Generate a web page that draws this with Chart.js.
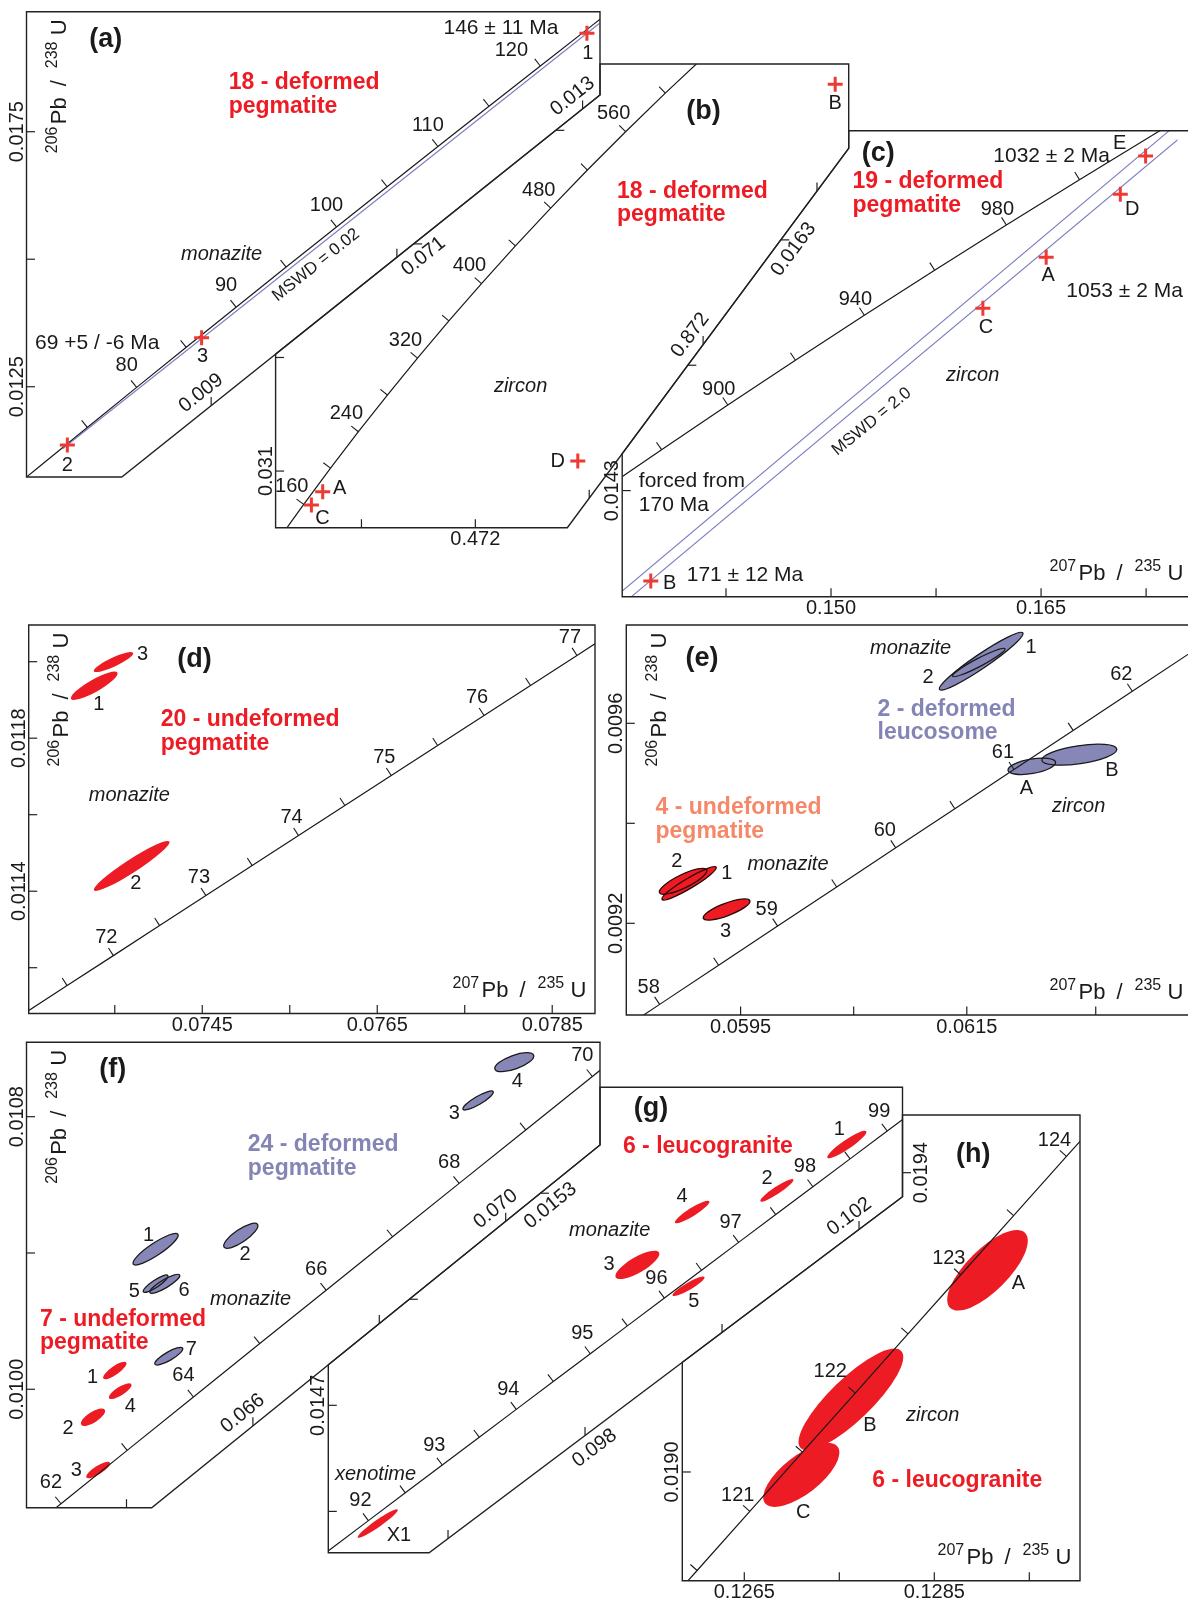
<!DOCTYPE html>
<html>
<head>
<meta charset="utf-8">
<title>U-Pb concordia diagrams</title>
<script src="https://cdn.jsdelivr.net/npm/chart.js@4.4.1/dist/chart.umd.min.js"></script>
<style>
  html, body { margin: 0; padding: 0; background: #fff; }
  #page { position: relative; width: 1188px; height: 1598px; overflow: hidden; background: #fff; }
  #page canvas { position: absolute; left: 0; top: 0; }
</style>
</head>
<body>
<div id="page"></div>
<script>
const W = 1188, H = 1598;
const FONT = '"Liberation Sans", Arial, Helvetica, sans-serif';
const INK = '#1a1a1a', RED = '#ed1c24', PURPLE = '#8585b5', SALMON = '#f6886a';
const BLUE_FILL = '#8687b6', DISC = '#7c7cc2', CROSS = '#ef3a34';

// ---------- (a) 18 - deformed pegmatite, monazite ----------
const aConcAges = [65, 70, 75, 80, 85, 90, 95, 100, 105, 110, 115, 120, 125, 130];
const aConcX = [0.066108, 0.071371, 0.076660, 0.081975, 0.087316, 0.092683, 0.098077, 0.103498, 0.108945, 0.114419, 0.119920, 0.125449, 0.131004, 0.136588];
const aConcY = [0.010134, 0.010918, 0.011702, 0.012487, 0.013273, 0.014059, 0.014846, 0.015633, 0.016421, 0.017210, 0.017999, 0.018789, 0.019580, 0.020371];
const aTickAges = [75, 80, 85, 90, 95, 100, 105, 110, 115, 120];
const aLabelAges = [80, 90, 100, 110, 120];
const aSpotNames = ['2', '3', '1'];
const aSpotX = [0.07451, 0.08897, 0.13047];
const aSpotY = [0.011357, 0.013460, 0.019429];
const aDiscX = [0.0740, 0.1318];
const aDiscY = [0.011283, 0.019621];
const aXTicks = [0.09, 0.11, 0.13];
const aXTickLabels = ['0.009', '', '0.013'];
const aYTicks = [0.0125, 0.015, 0.0175];
const aYTickLabels = ['0.0125', '', '0.0175'];

// ---------- (b) 18 - deformed pegmatite, zircon ----------
const bConcAges = [120, 140, 160, 200, 240, 280, 320, 360, 400, 440, 480, 520, 560, 600, 640];
const bConcX = [0.125449, 0.147837, 0.170673, 0.217708, 0.266637, 0.317529, 0.370468, 0.425533, 0.482811, 0.542392, 0.604365, 0.668829, 0.735882, 0.805631, 0.878181];
const bConcY = [0.018789, 0.021955, 0.025131, 0.031511, 0.037932, 0.044392, 0.050893, 0.057434, 0.064016, 0.070638, 0.077302, 0.084008, 0.090755, 0.097544, 0.104376];
const bTickAges = [160, 200, 240, 280, 320, 360, 400, 440, 480, 520, 560, 600];
const bLabelAges = [160, 240, 320, 400, 480, 560];
const bSpotNames = ['B', 'D', 'A', 'C'];
const bSpotX = [1.10398, 0.65194, 0.20394, 0.18410];
const bSpotY = [0.099102, 0.032773, 0.027367, 0.025025];
const bXTicks = [0.272, 0.472, 0.672, 0.872, 1.072];
const bXTickLabels = ['', '0.472', '', '0.872', ''];
const bYTicks = [0.031, 0.051, 0.071, 0.091];
const bYTickLabels = ['0.031', '', '0.071', ''];

// ---------- (c) 19 - deformed pegmatite, zircon ----------
const cConcAges = [840, 860, 880, 900, 920, 940, 960, 980, 1000, 1020, 1040];
const cConcX = [1.287074, 1.332572, 1.378972, 1.426294, 1.474558, 1.523783, 1.573986, 1.625190, 1.677409, 1.730669, 1.784989];
const cConcY = [0.139176, 0.142716, 0.146266, 0.149828, 0.153401, 0.156985, 0.160580, 0.164186, 0.167804, 0.171433, 0.175073];
const cTickAges = [880, 900, 920, 940, 960, 980, 1000];
const cLabelAges = [900, 940, 980];
const cSpotNames = ['E', 'D', 'A', 'C', 'B'];
const cSpotX = [1.72464, 1.70656, 1.653645, 1.608440, 1.371279];
const cSpotY = [0.169691, 0.166636, 0.161610, 0.157542, 0.135788];
const cDiscUpperX = [1.33, 1.76];
const cDiscUpperY = [0.133028, 0.173452];
const cDiscLowerX = [1.33, 1.76];
const cDiscLowerY = [0.131975, 0.172143];
const cXTicks = [1.425, 1.5, 1.575, 1.65, 1.725];
const cXTickLabels = ['', '0.150', '', '0.165', ''];
const cYTicks = [0.143, 0.153, 0.163];
const cYTickLabels = ['0.0143', '', '0.0163'];

// ---------- (d) 20 - undeformed pegmatite, monazite ----------
const dConcAges = [71, 71.5, 72, 72.5, 73, 73.5, 74, 74.5, 75, 75.5, 76, 76.5, 77, 77.5];
const dConcX = [0.0724271, 0.0729553, 0.0734837, 0.0740125, 0.0745415, 0.0750707, 0.0756003, 0.0761301, 0.0766601, 0.0771904, 0.0777210, 0.0782518, 0.0787829, 0.0793142];
const dConcY = [0.01107475, 0.01115318, 0.0112316, 0.01131004, 0.01138849, 0.01146693, 0.01154539, 0.01162385, 0.01170232, 0.01178079, 0.01185927, 0.01193775, 0.01201625, 0.01209475];
const dTickAges = [71.5, 72, 72.5, 73, 73.5, 74, 74.5, 75, 75.5, 76, 76.5, 77];
const dLabelAges = [72, 73, 74, 75, 76, 77];
const dEllNames = ['1', '2', '3'];
const dEllX = [0.073265, 0.073693, 0.073485];
const dEllY = [0.011937, 0.011466, 0.011999];
const dEllSX = [0.0002675, 0.000433, 0.000225];
const dEllSY = [0.0000371, 0.0000654, 0.0000261];
const dEllRho = [0.87, 0.95, 0.87];
const dXTicks = [0.0735, 0.0745, 0.0755, 0.0765, 0.0775, 0.0785];
const dXTickLabels = ['', '0.0745', '', '0.0765', '', '0.0785'];
const dYTicks = [0.0112, 0.0114, 0.0116, 0.0118, 0.0120];
const dYTickLabels = ['', '0.0114', '', '0.0118', ''];

// ---------- (e) 2 - deformed leucosome / 4 - undeformed pegmatite ----------
const eConcAges = [57.5, 58, 58.5, 59, 59.5, 60, 60.5, 61, 61.5, 62, 62.5, 63];
const eConcX = [0.0582630, 0.0587842, 0.0593057, 0.0598275, 0.0603495, 0.0608718, 0.0613943, 0.0619171, 0.0624401, 0.0629634, 0.0634870, 0.0640108];
const eConcY = [0.00895959, 0.00903785, 0.00911611, 0.00919438, 0.00927267, 0.00935095, 0.00942924, 0.00950754, 0.00958584, 0.00966415, 0.00974246, 0.00982079];
const eTickAges = [58, 58.5, 59, 59.5, 60, 60.5, 61, 61.5, 62];
const eLabelAges = [58, 59, 60, 61, 62];
const eBlueNames = ['1', '2', 'A', 'B'];
const eBlueX = [0.0616273, 0.0616061, 0.0620747, 0.0624947];
const eBlueY = [0.0097242, 0.0097216, 0.0095140, 0.0095372];
const eBlueSX = [0.0003696, 0.0002325, 0.0002104, 0.0003316];
const eBlueSY = [0.0000578, 0.0000284, 0.0000165, 0.0000210];
const eBlueRho = [0.956, 0.947, 0.45, 0.5];
const eRedNames = ['2', '1', '3'];
const eRedX = [0.0589916, 0.0590447, 0.0593762];
const eRedY = [0.0092840, 0.0092800, 0.0092276];
const eRedSX = [0.0002104, 0.0002405, 0.0002069];
const eRedSY = [0.0000260, 0.0000334, 0.0000210];
const eRedRho = [0.82, 0.936, 0.78];
const eXTicks = [0.0595, 0.0605, 0.0615, 0.06264];
const eXTickLabels = ['0.0595', '', '0.0615', ''];
const eYTicks = [0.0092, 0.0094, 0.0096];
const eYTickLabels = ['0.0092', '', '0.0096'];

// ---------- (f) 24 - deformed / 7 - undeformed pegmatite ----------
const fConcAges = [61, 62, 63, 64, 65, 66, 67, 68, 69, 70, 71];
const fConcX = [0.0619171, 0.0629634, 0.0640108, 0.0650592, 0.0661087, 0.0671591, 0.0682106, 0.0692632, 0.0703168, 0.0713714, 0.0724271];
const fConcY = [0.00950754, 0.00966415, 0.00982079, 0.00997744, 0.01013414, 0.01029084, 0.01044758, 0.01060434, 0.01076111, 0.01091792, 0.01107475];
const fTickAges = [62, 63, 64, 65, 66, 67, 68, 69, 70];
const fLabelAges = [62, 64, 66, 68, 70];
const fBlueNames = ['1', '2', '3', '4', '5', '6', '7'];
const fBlueX = [0.0644605, 0.0658086, 0.0695634, 0.0701362, 0.0644605, 0.0646060, 0.0646693];
const fBlueY = [0.0104111, 0.0104505, 0.0108475, 0.0109599, 0.0103099, 0.0103096, 0.0100971];
const fBlueSX = [0.0003576, 0.0002706, 0.0002405, 0.0003085, 0.0001962, 0.0002373, 0.0002215];
const fBlueSY = [0.0000464, 0.0000367, 0.0000279, 0.0000279, 0.0000255, 0.0000279, 0.0000258];
const fBlueRho = [0.886, 0.80, 0.87, 0.65, 0.87, 0.866, 0.84];
const fRedNames = ['1', '2', '3', '4'];
const fRedX = [0.0638149, 0.0634699, 0.0635522, 0.0639003];
const fRedY = [0.0100552, 0.0099181, 0.0097632, 0.0099944];
const fRedSX = [0.0001851, 0.0001915, 0.0001883, 0.0001788];
const fRedSY = [0.0000258, 0.0000258, 0.0000244, 0.0000229];
const fRedRho = [0.82, 0.71, 0.81, 0.78];
const fXTicks = [0.064, 0.066, 0.068, 0.070];
const fXTickLabels = ['', '0.066', '', '0.070'];
const fYTicks = [0.0100, 0.0104, 0.0108];
const fYTickLabels = ['0.0100', '', '0.0108'];

// ---------- (g) 6 - leucogranite, monazite + xenotime ----------
const gConcAges = [91, 91.5, 92, 92.5, 93, 93.5, 94, 94.5, 95, 95.5, 96, 96.5, 97, 97.5, 98, 98.5, 99, 99.5];
const gConcX = [0.0937601, 0.0942988, 0.0948378, 0.0953770, 0.0959166, 0.0964564, 0.0969964, 0.0975367, 0.0980773, 0.0986182, 0.0991593, 0.0997007, 0.1002423, 0.1007843, 0.1013264, 0.1018689, 0.1024116, 0.1029546];
const gConcY = [0.01421649, 0.01429515, 0.01437382, 0.0144525, 0.01453119, 0.01460989, 0.01468858, 0.01476729, 0.014846, 0.01492471, 0.01500344, 0.01508216, 0.01516091, 0.01523965, 0.01531839, 0.01539714, 0.01547591, 0.01555467];
const gTickAges = [92, 92.5, 93, 93.5, 94, 94.5, 95, 95.5, 96, 96.5, 97, 97.5, 98, 98.5, 99];
const gLabelAges = [92, 93, 94, 95, 96, 97, 98, 99];
const gEllNames = ['1', '2', '3', '4', '5', 'X1'];
const gEllX = [0.1018229, 0.1008010, 0.0987646, 0.0995646, 0.0995120, 0.0949750];
const gEllY = [0.0154378, 0.0153082, 0.0150972, 0.0152468, 0.0150367, 0.0143657];
const gEllSX = [0.0002861, 0.0002423, 0.0003212, 0.0002525, 0.0002336, 0.0002934];
const gEllSY = [0.0000390, 0.0000320, 0.0000402, 0.0000320, 0.0000274, 0.0000402];
const gEllRho = [0.917, 0.927, 0.78, 0.905, 0.905, 0.953];
const gXTicks = [0.096, 0.098, 0.100, 0.102];
const gXTickLabels = ['', '0.098', '', '0.102'];
const gYTicks = [0.0144, 0.0147, 0.0150, 0.0153];
const gYTickLabels = ['', '0.0147', '', '0.0153'];

// ---------- (h) 6 - leucogranite, zircon ----------
const hConcAges = [120, 120.5, 121, 121.5, 122, 122.5, 123, 123.5, 124, 124.5];
const hConcX = [0.1254489, 0.1260033, 0.1265579, 0.1271127, 0.1276679, 0.1282233, 0.1287790, 0.1293350, 0.1298913, 0.1304478];
const hConcY = [0.01878935, 0.01886836, 0.01894739, 0.01902643, 0.01910546, 0.0191845, 0.01926357, 0.01934262, 0.01942169, 0.01950076];
const hTickAges = [120.5, 121, 121.5, 122, 122.5, 123, 123.5, 124];
const hLabelAges = [121, 122, 123, 124];
const hEllNames = ['A', 'B', 'C'];
const hEllX = [0.1290599, 0.1276221, 0.1271];
const hEllY = [0.0192696, 0.0190969, 0.018996];
const hEllSX = [0.0004242, 0.0005516, 0.000401];
const hEllSY = [0.0000539, 0.000068, 0.0000428];
const hEllRho = [0.73, 0.835, 0.70];
const hXTicks = [0.1265, 0.1275, 0.1285, 0.1295];
const hXTickLabels = ['0.1265', '', '0.1285', ''];
const hYTicks = [0.0190, 0.0194];
const hYTickLabels = ['0.0190', '0.0194'];

// ---------- fonts ----------
const F_LET = 'bold 27px ' + FONT;
const F_TTL = 'bold 23px ' + FONT;
const F_IT = 'italic 20px ' + FONT;
const F_ANN = '21px ' + FONT;
const F_NUM = '20px ' + FONT;
const F_SM = '17px ' + FONT;

// ---------- layout of the eight panels ----------
const panels = [
  {
    id: 'a', box: [26.5, 11.7, 600, 477], xr: [0.07011, 0.131877], yr: [0.01073, 0.019853],
    frame: [[26.5, 11.7], [600, 11.7], [600, 95], [121.8, 477], [26.5, 477]],
    conc: { ages: aConcAges, x: aConcX, y: aConcY, ticks: aTickAges, labels: aLabelAges },
    ageOff: [-10, -21.5], ageOffAt: { 120: [-29, -15] },
    spots: { names: aSpotNames, x: aSpotX, y: aSpotY, off: [[0, 20], [1, 19], [1, 20]] },
    lines: [{ x: aDiscX, y: aDiscY, color: DISC }],
    xTicks: { v: aXTicks, labels: aXTickLabels }, yTicks: { v: aYTicks, labels: aYTickLabels },
    yTitle: true,
    texts: [
      ['(a)', 105.8, 39.3, F_LET, INK, 'center'],
      ['18 - deformed', 228.7, 83, F_TTL, RED],
      ['pegmatite', 228.7, 106.7, F_TTL, RED],
      ['146 \u00b1 11 Ma', 443.5, 28, F_ANN, INK],
      ['69 +5 / -6 Ma', 35, 343, F_ANN, INK],
      ['monazite', 181, 254, F_IT, INK],
      ['MSWD = 0.02', 316, 265, F_SM, INK, 'center', -38.6]
    ]
  },
  {
    id: 'b', box: [275.6, 64, 848.7, 527.7], xr: [0.12123, 1.12770], yr: [0.021028, 0.102676],
    frame: [[600, 64], [848.7, 64], [848.7, 148.3], [567.3, 527.7], [275.6, 527.7], [275.6, 354.1], [600, 95]],
    conc: { ages: bConcAges, x: bConcX, y: bConcY, ticks: bTickAges, labels: bLabelAges },
    ageOff: [-12, -18],
    spots: { names: bSpotNames, x: bSpotX, y: bSpotY, off: [[0, 19], [-20, 0], [17, -3], [11, 13]] },
    xTicks: { v: bXTicks, labels: bXTickLabels }, yTicks: { v: bYTicks, labels: bYTickLabels },
    texts: [
      ['(b)', 703.5, 111.7, F_LET, INK, 'center'],
      ['18 - deformed', 617, 191.7, F_TTL, RED],
      ['pegmatite', 617, 214.3, F_TTL, RED],
      ['zircon', 493.9, 386.7, F_IT, INK]
    ]
  },
  {
    id: 'c', box: [622.2, 130.7, 1188, 596.7], xr: [1.350885, 1.747414], yr: [0.134536, 0.171709],
    frame: [[848.7, 130.7], [1190, 130.7], [1190, 596.7], [622.2, 596.7], [622.2, 453.7], [848.7, 148.3]],
    conc: { ages: cConcAges, x: cConcX, y: cConcY, ticks: cTickAges, labels: cLabelAges },
    ageOff: [-9, -16],
    spots: { names: cSpotNames, x: cSpotX, y: cSpotY, off: [[-26, -13], [12, 15], [2, 18], [3, 19], [19, 2]] },
    lines: [{ x: cDiscUpperX, y: cDiscUpperY, color: DISC }, { x: cDiscLowerX, y: cDiscLowerY, color: DISC }],
    xTicks: { v: cXTicks, labels: cXTickLabels }, yTicks: { v: cYTicks, labels: cYTickLabels },
    xTitle: [1192, 596.7],
    texts: [
      ['(c)', 878.3, 153.3, F_LET, INK, 'center'],
      ['1032 \u00b1 2 Ma', 993.3, 156.7, F_ANN, INK],
      ['19 - deformed', 852.5, 181.7, F_TTL, RED],
      ['pegmatite', 852.5, 206, F_TTL, RED],
      ['1053 \u00b1 2 Ma', 1066.3, 291.7, F_ANN, INK],
      ['zircon', 946, 375, F_IT, INK],
      ['MSWD = 2.0', 871.7, 421.7, F_SM, INK, 'center', -39.5],
      ['forced from', 638.8, 481, F_ANN, INK],
      ['170 Ma', 638.8, 505, F_ANN, INK],
      ['171 \u00b1 12 Ma', 686.7, 575, F_ANN, INK]
    ]
  },
  {
    id: 'd', box: [28.7, 625, 595, 1013.5], xr: [0.072516, 0.078989], yr: [0.0110803, 0.0120959],
    frame: [[28.7, 625], [595, 625], [595, 1013.5], [28.7, 1013.5]],
    conc: { ages: dConcAges, x: dConcX, y: dConcY, ticks: dTickAges, labels: dLabelAges },
    ageOff: [-7, -18],
    ells: [{ names: dEllNames, x: dEllX, y: dEllY, sx: dEllSX, sy: dEllSY, rho: dEllRho, fill: RED,
             off: [[4.5, 18.4], [4.2, 17.3], [29.2, -7.7]] }],
    xTicks: { v: dXTicks, labels: dXTickLabels }, yTicks: { v: dYTicks, labels: dYTickLabels },
    yTitle: true, xTitle: [595, 1013.5],
    texts: [
      ['(d)', 194.4, 660, F_LET, INK, 'center'],
      ['20 - undeformed', 160.7, 720, F_TTL, RED],
      ['pegmatite', 160.7, 743.3, F_TTL, RED],
      ['monazite', 88.8, 795.7, F_IT, INK]
    ]
  },
  {
    id: 'e', box: [626.3, 625, 1188, 1015], xr: [0.0584894, 0.0634558], yr: [0.0090166, 0.0097966],
    frame: [[626.3, 625], [1190, 625], [1190, 1015], [626.3, 1015]],
    conc: { ages: eConcAges, x: eConcX, y: eConcY, ticks: eTickAges, labels: eLabelAges },
    ageOff: [-11, -17],
    ells: [
      { names: eBlueNames, x: eBlueX, y: eBlueY, sx: eBlueSX, sy: eBlueSY, rho: eBlueRho, fill: BLUE_FILL, stroke: INK,
        off: [[49.8, -13.9], [-50.8, 14.8], [-5.4, 22], [32.6, 15.3]] },
      { names: eRedNames, x: eRedX, y: eRedY, sx: eRedSX, sy: eRedSY, rho: eRedRho, fill: RED, stroke: '#2a0606',
        off: [[-6.2, -19.6], [37.7, -10], [-1, 21.5]] }
    ],
    xTicks: { v: eXTicks, labels: eXTickLabels }, yTicks: { v: eYTicks, labels: eYTickLabels },
    yTitle: true, xTitle: [1192, 1015],
    texts: [
      ['(e)', 702, 658.3, F_LET, INK, 'center'],
      ['monazite', 870, 648.3, F_IT, INK],
      ['2 - deformed', 877.5, 709.3, F_TTL, PURPLE],
      ['leucosome', 877.5, 732.3, F_TTL, PURPLE],
      ['zircon', 1051.9, 806.7, F_IT, INK],
      ['4 - undeformed', 655.5, 807.7, F_TTL, SALMON],
      ['pegmatite', 655.5, 831.7, F_TTL, SALMON],
      ['monazite', 747.4, 864.3, F_IT, INK]
    ]
  },
  {
    id: 'f', box: [26.5, 1042.3, 600, 1507.7], xr: [0.0624177, 0.0714922], yr: [0.0096525, 0.0110183],
    frame: [[26.5, 1042.3], [600, 1042.3], [600, 1145], [151.7, 1507.7], [26.5, 1507.7]],
    conc: { ages: fConcAges, x: fConcX, y: fConcY, ticks: fTickAges, labels: fLabelAges },
    ageOff: [-10, -21],
    ells: [
      { names: fBlueNames, x: fBlueX, y: fBlueY, sx: fBlueSX, sy: fBlueSY, rho: fBlueRho, fill: BLUE_FILL, stroke: INK,
        off: [[-7, -14.2], [4.2, 19.2], [-23.7, 12.8], [3.1, 18.8], [-21.4, 8], [19.2, 6.2], [22.6, -7.2]] },
      { names: fRedNames, x: fRedX, y: fRedY, sx: fRedSX, sy: fRedSY, rho: fRedRho, fill: RED,
        off: [[-22.2, 6.8], [-24.9, 11.1], [-22, 1], [10.1, 14.8]] }
    ],
    xTicks: { v: fXTicks, labels: fXTickLabels }, yTicks: { v: fYTicks, labels: fYTickLabels },
    yTitle: true,
    texts: [
      ['(f)', 112.8, 1070, F_LET, INK, 'center'],
      ['24 - deformed', 247.8, 1144.3, F_TTL, PURPLE],
      ['pegmatite', 247.8, 1168.3, F_TTL, PURPLE],
      ['7 - undeformed', 40, 1320, F_TTL, RED],
      ['pegmatite', 40, 1342.3, F_TTL, RED],
      ['monazite', 210, 1299, F_IT, INK]
    ]
  },
  {
    id: 'g', box: [328.3, 1087.3, 902.5, 1552.7], xr: [0.0942524, 0.1026346], yr: [0.0142831, 0.0155996],
    frame: [[600, 1087.3], [902.5, 1087.3], [902.5, 1196.7], [429.1, 1552.7], [328.3, 1552.7], [328.3, 1364.8], [600, 1145]],
    conc: { ages: gConcAges, x: gConcX, y: gConcY, ticks: gTickAges, labels: gLabelAges },
    ageOff: [-8, -20],
    ells: [{ names: gEllNames, x: gEllX, y: gEllY, sx: gEllSX, sy: gEllSY, rho: gEllRho, fill: RED,
             off: [[-7.6, -15.2], [-9.9, -12], [-28.4, -0.9], [-10.2, -15.3], [5.1, 15.4], [21.2, 11.5]] }],
    xTicks: { v: gXTicks, labels: gXTickLabels, sides: [1, -1, 1, 1] }, yTicks: { v: gYTicks, labels: gYTickLabels },
    texts: [
      ['(g)', 651.1, 1108.3, F_LET, INK, 'center'],
      ['6 - leucogranite', 622.9, 1146.7, F_TTL, RED],
      ['monazite', 569.1, 1230.7, F_IT, INK],
      ['xenotime', 335, 1474, F_IT, INK]
    ]
  },
  {
    id: 'h', box: [682.3, 1115, 1080, 1580.7], xr: [0.1258474, 0.1300336], yr: [0.0188547, 0.0194771],
    frame: [[902.5, 1115], [1080, 1115], [1080, 1580.7], [682.3, 1580.7], [682.3, 1362.3], [902.5, 1196.7]],
    conc: { ages: hConcAges, x: hConcX, y: hConcY, ticks: hTickAges, labels: hLabelAges },
    ageOff: [-12, -16], ageOffAt: { 122: [-25, -22] },
    ells: [{ names: hEllNames, x: hEllX, y: hEllY, sx: hEllSX, sy: hEllSY, rho: hEllRho, fill: RED,
             off: [[30.8, 13.7], [19.1, 26.5], [2, 37.7]] }],
    xTicks: { v: hXTicks, labels: hXTickLabels }, yTicks: { v: hYTicks, labels: hYTickLabels, sides: [-1, 1] },
    xTitle: [1080, 1580.7],
    texts: [
      ['(h)', 973.3, 1155, F_LET, INK, 'center'],
      ['6 - leucogranite', 872.3, 1481, F_TTL, RED],
      ['zircon', 906, 1415, F_IT, INK]
    ]
  }
];

// ---------- drawing helpers ----------
function txt(ctx, s, x, y, font, color, align, angle) {
  ctx.save();
  ctx.translate(x, y);
  if (angle) ctx.rotate(angle * Math.PI / 180);
  ctx.font = font;
  ctx.fillStyle = color;
  ctx.textAlign = align || 'left';
  ctx.textBaseline = 'middle';
  ctx.fillText(s, 0, 0);
  ctx.restore();
}

function polyPath(ctx, poly) {
  ctx.beginPath();
  poly.forEach(([x, y], i) => (i ? ctx.lineTo(x, y) : ctx.moveTo(x, y)));
  ctx.closePath();
}

// error ellipse from centre, 2-sigma half widths and correlation, through the chart scales
function ellPath(ctx, chart, G, i) {
  const xs = chart.scales.x, ys = chart.scales.y;
  const cx = xs.getPixelForValue(G.x[i]), cy = ys.getPixelForValue(G.y[i]);
  const a = Math.abs(xs.getPixelForValue(G.x[i] + G.sx[i]) - cx);
  const b = Math.abs(ys.getPixelForValue(G.y[i] + G.sy[i]) - cy);
  const c = -G.rho[i] * a * b; // screen y runs downwards
  const m = (a * a + b * b) / 2;
  const d = Math.sqrt(((a * a - b * b) / 2) ** 2 + c * c);
  const r1 = Math.sqrt(m + d), r2 = Math.sqrt(Math.max(m - d, 0.5));
  const th = 0.5 * Math.atan2(2 * c, a * a - b * b);
  ctx.beginPath();
  ctx.ellipse(cx, cy, r1, r2, th, 0, Math.PI * 2);
}

// where a tick line meets the panel frame
function edgeHit(poly, axis, p) {
  let best = null;
  for (let i = 0; i < poly.length; i++) {
    const [x1, y1] = poly[i], [x2, y2] = poly[(i + 1) % poly.length];
    if (axis === 'x') {
      if (Math.abs(x2 - x1) < 0.01) continue;
      const t = (p - x1) / (x2 - x1);
      if (t < 0 || t > 1) continue;
      const y = y1 + t * (y2 - y1);
      if (!best || y > best.y) best = { x: p, y, dx: x2 - x1, dy: y2 - y1 };
    } else {
      if (Math.abs(y2 - y1) < 0.01) continue;
      const t = (p - y1) / (y2 - y1);
      if (t < 0 || t > 1) continue;
      const x = x1 + t * (x2 - x1);
      if (!best || x < best.x) best = { x, y: p, dx: x2 - x1, dy: y2 - y1 };
    }
  }
  return best;
}

function drawAxis(ctx, chart, P, axis) {
  const T = axis === 'x' ? P.xTicks : P.yTicks;
  if (!T) return;
  const sc = axis === 'x' ? chart.scales.x : chart.scales.y;
  T.v.forEach((v, i) => {
    const hit = edgeHit(P.frame, axis, sc.getPixelForValue(v));
    if (!hit) return;
    ctx.beginPath();
    ctx.moveTo(hit.x, hit.y);
    if (axis === 'x') ctx.lineTo(hit.x, hit.y - 8.5);
    else ctx.lineTo(hit.x + 8.5, hit.y);
    ctx.stroke();
    const lab = T.labels[i];
    if (!lab) return;
    const side = (T.sides && T.sides[i]) || 0;
    let lx, ly, ang = 0;
    if (Math.abs(hit.dy) < 0.5) {
      lx = hit.x; ly = hit.y + 12;
    } else if (Math.abs(hit.dx) < 0.5) {
      lx = hit.x + (side > 0 ? 19 : -9.5); ly = hit.y; ang = -90;
    } else {
      let a = Math.atan2(hit.dy, hit.dx);
      if (a > Math.PI / 2) a -= Math.PI;
      if (a < -Math.PI / 2) a += Math.PI;
      const len = Math.hypot(hit.dx, hit.dy);
      let nx = -hit.dy / len, ny = hit.dx / len;
      if (axis === 'x' ? ny > 0 : nx < 0) { nx = -nx; ny = -ny; }
      const s = side < 0 ? -1 : 1;
      lx = hit.x + nx * 16 * s; ly = hit.y + ny * 16 * s; ang = a * 180 / Math.PI;
    }
    txt(ctx, lab, lx, ly, F_NUM, INK, 'center', ang);
  });
}

function isoTitle(ctx, x, y, rot, m1, m2) {
  const parts = [[m1, 0, 1], ['Pb', 29, 0], ['/', 67, 0], [m2, 85, 1], ['U', 118, 0]];
  ctx.save();
  ctx.translate(x, y);
  ctx.rotate(rot);
  ctx.fillStyle = INK;
  ctx.textAlign = 'left';
  ctx.textBaseline = 'alphabetic';
  parts.forEach(([s, o, sup]) => {
    ctx.font = (sup ? '16px ' : '22px ') + FONT;
    ctx.fillText(s, o, sup ? -9 : 0);
  });
  ctx.restore();
}

function makePlugin(P) {
  return {
    id: 'panel' + P.id,
    beforeDatasetsDraw(chart) {
      const ctx = chart.ctx;
      ctx.save();
      polyPath(ctx, P.frame);
      ctx.clip();
      (P.ells || []).forEach(G => {
        ctx.fillStyle = G.fill;
        G.x.forEach((_, i) => { ellPath(ctx, chart, G, i); ctx.fill(); });
        if (G.stroke) {
          ctx.strokeStyle = G.stroke;
          ctx.lineWidth = 1.3;
          G.x.forEach((_, i) => { ellPath(ctx, chart, G, i); ctx.stroke(); });
        }
      });
    },
    afterDatasetsDraw(chart) {
      const ctx = chart.ctx, C = P.conc, xs = chart.scales.x, ys = chart.scales.y;
      ctx.strokeStyle = INK;
      ctx.lineWidth = 1.1;
      C.ticks.forEach(t => {
        const i = C.ages.indexOf(t);
        const x0 = xs.getPixelForValue(C.x[i]), y0 = ys.getPixelForValue(C.y[i]);
        const dx = xs.getPixelForValue(C.x[i + 1]) - xs.getPixelForValue(C.x[i - 1]);
        const dy = ys.getPixelForValue(C.y[i + 1]) - ys.getPixelForValue(C.y[i - 1]);
        const len = Math.hypot(dx, dy);
        ctx.beginPath();
        ctx.moveTo(x0, y0);
        ctx.lineTo(x0 + 9 * dy / len, y0 - 9 * dx / len);
        ctx.stroke();
      });
      ctx.restore();
    },
    afterDraw(chart) {
      const ctx = chart.ctx, xs = chart.scales.x, ys = chart.scales.y, C = P.conc;
      ctx.save();
      ctx.strokeStyle = '#222';
      ctx.lineWidth = 1.4;
      polyPath(ctx, P.frame);
      ctx.stroke();
      ctx.lineWidth = 1.2;
      drawAxis(ctx, chart, P, 'x');
      drawAxis(ctx, chart, P, 'y');
      C.labels.forEach(t => {
        const i = C.ages.indexOf(t);
        const off = (P.ageOffAt && P.ageOffAt[t]) || P.ageOff;
        txt(ctx, String(t), xs.getPixelForValue(C.x[i]) + off[0], ys.getPixelForValue(C.y[i]) + off[1], F_NUM, INK, 'center');
      });
      if (P.spots) {
        P.spots.names.forEach((n, i) => txt(ctx, n,
          xs.getPixelForValue(P.spots.x[i]) + P.spots.off[i][0],
          ys.getPixelForValue(P.spots.y[i]) + P.spots.off[i][1], F_NUM, INK, 'center'));
      }
      (P.ells || []).forEach(G => G.names.forEach((n, i) => txt(ctx, n,
        xs.getPixelForValue(G.x[i]) + G.off[i][0],
        ys.getPixelForValue(G.y[i]) + G.off[i][1], F_NUM, INK, 'center')));
      P.texts.forEach(T => txt(ctx, ...T));
      if (P.yTitle) isoTitle(ctx, P.box[0] + 39.5, P.box[1] + 141.5, -Math.PI / 2, '206', '238');
      if (P.xTitle) isoTitle(ctx, P.xTitle[0] - 142.5, P.xTitle[1] - 16.5, 0, '207', '235');
      ctx.restore();
    }
  };
}

// ---------- one Chart.js chart per panel ----------
const page = document.getElementById('page');
panels.forEach(P => {
  const cv = document.createElement('canvas');
  cv.width = W; cv.height = H;
  cv.style.width = W + 'px'; cv.style.height = H + 'px';
  page.appendChild(cv);

  const datasets = [];
  if (P.spots) {
    datasets.push({
      label: 'spots', data: P.spots.x.map((x, i) => ({ x, y: P.spots.y[i] })),
      pointStyle: 'cross', pointRadius: 7.5, pointBorderWidth: 3,
      pointBorderColor: CROSS, borderColor: CROSS, showLine: false
    });
  }
  (P.lines || []).forEach(L => datasets.push({
    label: 'discordia', data: L.x.map((x, i) => ({ x, y: L.y[i] })),
    showLine: true, borderColor: L.color, borderWidth: 1.1, pointRadius: 0
  }));
  datasets.push({
    label: 'concordia', data: P.conc.ages.map((t, i) => ({ x: P.conc.x[i], y: P.conc.y[i] })),
    showLine: true, borderColor: INK, borderWidth: 1.2, pointRadius: 0
  });
  (P.ells || []).forEach(G => datasets.push({
    label: 'analyses', data: G.x.map((x, i) => ({ x, y: G.y[i] })), pointRadius: 0, showLine: false
  }));

  new Chart(cv, {
    type: 'scatter',
    data: { datasets },
    options: {
      responsive: false,
      animation: false,
      events: [],
      layout: { padding: { left: P.box[0], top: P.box[1], right: W - P.box[2], bottom: H - P.box[3] } },
      scales: {
        x: { type: 'linear', display: false, min: P.xr[0], max: P.xr[1] },
        y: { type: 'linear', display: false, min: P.yr[0], max: P.yr[1] }
      },
      plugins: { legend: { display: false }, tooltip: { enabled: false } }
    },
    plugins: [makePlugin(P)]
  });
});
</script>
</body>
</html>
